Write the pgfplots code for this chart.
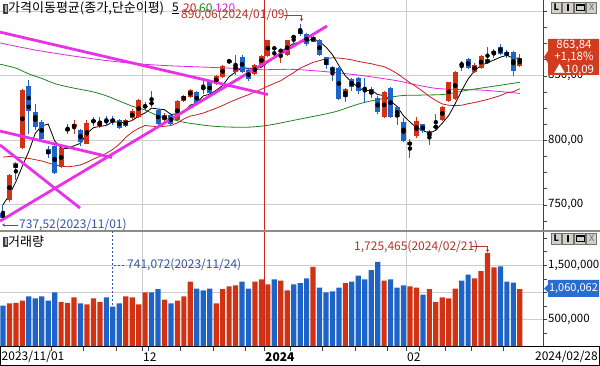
\documentclass[border=0pt]{standalone}
\usepackage{pgfplots}
\pgfplotsset{compat=1.18}
\usepackage{pgfplotstable}
\usetikzlibrary{arrows.meta}
\usepackage{fontspec}
\setmainfont{Noto Sans CJK KR}
\definecolor{cred}{RGB}{210,50,20}
\definecolor{cblue}{RGB}{30,100,200}
\definecolor{ma20}{RGB}{200,30,30}
\definecolor{ma60}{RGB}{30,130,30}
\definecolor{ma120}{RGB}{220,40,220}
\definecolor{trend}{RGB}{232,50,232}
\definecolor{gridc}{RGB}{205,205,205}
\definecolor{annr}{RGB}{180,50,40}
\definecolor{annb}{RGB}{50,85,165}
\definecolor{btn}{RGB}{212,208,200}
\definecolor{yrline}{RGB}{205,40,30}
\definecolor{pbox}{RGB}{210,60,30}
\definecolor{vbox}{RGB}{40,110,210}

% up (red) candles: index open high low close volume
\pgfplotstableread{
i o h l c v
1 753.8 774 752.5 773.1 800000
2 778.3 783 769 782.1 810000
3 794.4 840 793 839.2 850000
9 779 795 778.5 794.4 830000
10 807.8 813 805 809 810000
11 810 815.4 805.1 812.5 910000
13 797.4 815.4 797 813.3 780000
14 814.1 818 811.5 815.9 890000
15 810.2 818 809.5 814.6 830000
19 811.3 816.5 810 815.9 930000
20 817.2 824 815 822.5 910000
21 818 832 817 831.3 780000
22 826 830 822.5 827 1000000
25 815.4 821 814 820 870000
27 815.4 831 815 830.3 850000
28 830.8 835.5 830 834.6 930000
29 833.8 840 833 839.2 1200000
33 843.6 850.8 843 850 800000
34 849.2 858.5 848.5 857.7 1060000
35 860.2 863 859.5 862.3 1110000
36 853.3 866 851 858.5 1130000
39 851.3 859 850.5 858.5 1200000
40 858.5 866 858 865.4 1240000
41 865.4 878 865 877.4 1150000
43 869 871 860 870 1220000
44 866.2 878 865.5 877.4 1040000
48 876.4 880.8 876 880.2 1470000
53 833.8 840.5 829.5 839.8 1170000
59 817.9 838 817 837.2 1220000
63 796.2 801.3 786 798.7 1110000
64 803.1 818 802 814.9 1090000
66 803.1 808.4 796.2 807.2 1060000
67 810 820.5 807.7 811 830000
68 815.4 826.8 815 826.2 910000
69 830.3 845.5 830 844.9 890000
70 832.1 853.5 831.5 852.6 1070000
73 853.3 860 852 858.2 1260000
74 856.4 866 855 865.4 1390000
75 859.7 872.3 859 862.8 1725465
76 866.7 870.8 864 869.2 1460000
80 857.5 867.2 857 863.84 1060062
}\up

% down (blue) candles
\pgfplotstableread{
i o h l c v
0 743.6 750 737.52 739.8 760000
4 842.3 847 805 823.1 930000
5 821.8 828 808 810.2 890000
6 814.1 815.4 800 801.3 930000
7 793.1 795.4 786 789.2 850000
8 795.4 797 774 774.4 1000000
12 807.7 809 796 798.7 800000
16 816 818.5 811 815 910000
17 816.7 818.5 812 814.1 741072
18 815.9 816.5 809 809.7 800000
23 829.2 838 825.6 828.3 1000000
24 823.6 824.5 812 812.3 1060000
26 820 821 811 812.3 800000
30 837.2 838 827.5 828.2 1070000
31 841 847.4 836 840 1040000
32 844.9 846 835 836.4 1070000
37 864.6 866 852 853.3 1200000
38 854.4 856 846 847.4 1070000
42 871.8 872 863 871 1240000
45 880.8 881.5 874.6 879.5 1150000
46 885.4 890.06 880.8 882.5 1170000
47 882.8 883.5 873 874.4 1260000
49 877.7 878.5 865 866 1090000
50 864.6 865 855 858.5 1000000
51 857 858 846 853 1020000
52 855.9 857 831.5 832.1 1090000
54 847.4 848.7 838.5 841.5 1200000
55 848.7 849 836 838.5 1310000
56 840.5 848.7 828.7 839.5 1240000
57 839.8 841 833 835.9 1410000
58 833 834 820.5 822.3 1560000
60 840.5 841 817.5 817.9 1240000
61 825.6 826.5 812 817.9 1090000
62 814 817.4 799 799.5 1130000
65 812.3 813 806 807.2 960000
71 859.5 861.5 853.8 858.5 1220000
72 862.8 864 855 855.9 1330000
77 872.3 874.9 866 866.7 1480000
78 868.7 870 864 865.4 1200000
79 868.7 869.5 850 853.75 1180000
}\dn

\begin{document}
\begin{tikzpicture}[x=1pt,y=1pt]
\useasboundingbox (0,0) rectangle (600,366);

% ---------------- price panel ----------------
\begin{axis}[at={(0pt,136pt)}, anchor=south west, scale only axis,
  width=543pt, height=230pt,
  xmin=-0.464, xmax=83.59, ymin=730.5, ymax=908.8,
  axis line style={draw=none},
  xtick=\empty, ytick pos=right, yticklabel pos=right,
  ytick={750,800,850}, yticklabels={{750,00},{800,00},{850,00}},
  minor ytick={737.5,762.5,775,787.5,812.5,825,837.5,862.5,875,887.5,900},
  tick align=outside, major tick length=4pt, minor tick length=4pt,
  every tick/.style={draw=black!75, line width=0.6pt},
  yticklabel style={font=\fontsize{11.5}{12}\selectfont, inner sep=1pt, text=black, anchor=west},
  clip=true]
  % grid
  \draw[gridc, line width=0.7pt] (-5,750) -- (90,750);
  \draw[gridc, line width=0.7pt] (-5,800) -- (90,800);
  \draw[gridc, line width=0.7pt] (-5,850) -- (90,850);
  \draw[gridc, line width=0.7pt] (-5,900) -- (90,900);
  \draw[gridc, line width=0.7pt] (21.5,700) -- (21.5,950);
  \draw[gridc, line width=0.7pt] (62.5,700) -- (62.5,950);
  \draw[yrline, line width=0.9pt] (40.5,700) -- (40.5,950);
  % moving averages
  \addplot[ma120, line width=0.8pt, smooth] coordinates {(-0.46,875.5)(0,875)(5,870)(10,866)(15,862.5)(20,859.7)(25,858)(30,857)(35,856)(40,854.8)(45,855)(50,853.2)(55,850.6)(58,848.5)(61,846.2)(64,843)(67,840.3)(70,839.5)(74,839)(77,837.8)(80,836.4)};
  \addplot[ma60, line width=0.8pt, smooth] coordinates {(-0.46,859)(0,858.5)(2,856)(4,851.5)(6,848)(8,844)(10,841.5)(12,839.5)(14,837.5)(16,834.5)(18,830.5)(20,826.5)(22,823.5)(24,819)(26,816.5)(28,814)(30,812.5)(32,811.2)(34,810.5)(36,810.2)(38,810.2)(40,811)(42,812.5)(44,814.5)(46,816.5)(48,818.5)(50,820.5)(52,823)(54,826.5)(56,829.5)(58,831.5)(60,833.5)(62,834.8)(64,835)(66,835.2)(68,835.5)(70,837)(72,839)(74,840.5)(76,842)(78,843.5)(80,845)};
  \addplot[ma20, line width=0.8pt] coordinates {(0,787)(1,787.5)(2,787)(3,786.5)(4,786)(5,785)(6,784)(7,782.5)(8,781)(9,780)(10,779.5)(11,780)(12,781)(13,783)(14,785.5)(15,787.5)(16,790)(17,793)(18,797)(19,802.3)(20,806.4)(21,809.3)(22,811.5)(23,811)(24,810.5)(25,810.9)(26,811.5)(27,813.6)(28,816.6)(29,818.8)(30,819.8)(31,821.2)(32,823)(33,824.9)(34,827)(35,829.4)(36,831.5)(37,833.5)(38,835.4)(39,837.5)(40,839.7)(41,842)(42,844.2)(43,846.2)(44,849.5)(45,852.5)(46,856)(47,858.2)(48,860.5)(49,861.8)(50,863.3)(51,864)(52,863.8)(53,863.2)(54,862.4)(55,861.2)(56,860.3)(57,859.4)(58,858.2)(59,857.1)(60,854.7)(61,851.8)(62,848.2)(63,844.6)(64,841.5)(65,837.9)(66,834.1)(67,830.9)(68,828.2)(69,827.2)(70,826.9)(71,827.2)(72,828.4)(73,829.3)(74,830.5)(75,831.7)(76,833.2)(77,834.7)(78,836.9)(79,837.7)(80,840)};
  \addplot[black, line width=0.8pt] coordinates {(0,750)(1,757.7)(2,768)(3,780)(4,791.5)(5,805.5)(6,811.2)(7,812.6)(8,799.6)(9,793.9)(10,793.7)(11,795.8)(12,797.7)(13,805.5)(14,809.8)(15,810.9)(16,811.5)(17,814.6)(18,813.9)(19,813.9)(20,815.4)(21,818.7)(22,821.3)(23,825)(24,824.3)(25,823.8)(26,820)(27,820.6)(28,821.9)(29,827.3)(30,828.9)(31,834.5)(32,835.7)(33,838.8)(34,842.5)(35,849.3)(36,853)(37,856.4)(38,855.8)(39,856)(40,856.6)(41,860.4)(42,863.9)(43,868.5)(44,872.2)(45,875.1)(46,876.1)(47,876.8)(48,878.8)(49,876.5)(50,872.3)(51,866.4)(52,858)(53,849.9)(54,845)(55,841)(56,838.3)(57,839)(58,835.5)(59,834.7)(60,830.6)(61,826.2)(62,819)(63,814.2)(64,809.8)(65,807.6)(66,805.5)(67,807.8)(68,813.3)(69,819.3)(70,828.4)(71,838.6)(72,847.6)(73,854)(74,858.1)(75,860.2)(76,862.3)(77,864.5)(78,865.9)(79,863.6)(80,863.8)};
  % candles: wicks
  \addplot[only marks, mark=none, error bars/.cd, y dir=both, y explicit, error mark=none,
    error bar style={draw=cred, line width=1pt}]
    table[x=i, y expr={(\thisrow{h}+\thisrow{l})/2}, y error expr={(\thisrow{h}-\thisrow{l})/2}] {\up};
  \addplot[only marks, mark=none, error bars/.cd, y dir=both, y explicit, error mark=none,
    error bar style={draw=cblue, line width=1pt}]
    table[x=i, y expr={(\thisrow{h}+\thisrow{l})/2}, y error expr={(\thisrow{h}-\thisrow{l})/2}] {\dn};
  % candles: bodies
  \addplot[only marks, mark=none, error bars/.cd, y dir=both, y explicit, error mark=none,
    error bar style={draw=cred, line width=5pt}]
    table[x=i, y expr={(\thisrow{o}+\thisrow{c})/2}, y error expr={abs(\thisrow{c}-\thisrow{o})/2}] {\up};
  \addplot[only marks, mark=none, error bars/.cd, y dir=both, y explicit, error mark=none,
    error bar style={draw=cblue, line width=5pt}]
    table[x=i, y expr={(\thisrow{o}+\thisrow{c})/2}, y error expr={abs(\thisrow{c}-\thisrow{o})/2}] {\dn};
  % trend lines
  \addplot[trend, line width=2.8pt] coordinates {(-0.46,883.9)(41.0,835.5)};
  \addplot[trend, line width=2.8pt] coordinates {(-0.46,807.2)(16.87,786.7)};
  \addplot[trend, line width=2.8pt] coordinates {(-0.46,796.4)(11.92,747.5)};
  \addplot[trend, line width=2.8pt] coordinates {(-0.46,737.4)(50.15,888.6)};
\end{axis}

% ---------------- volume panel ----------------
\begin{axis}[at={(0pt,19pt)}, anchor=south west, scale only axis,
  width=543pt, height=115pt,
  xmin=-0.464, xmax=83.59, ymin=0, ymax=2110000,
  axis line style={draw=none},
  xtick pos=bottom, ytick pos=right, yticklabel pos=right,
  xtick={2.5,7.5,12.5,17.5,21.5,22.5,27.5,32.5,37.5,40.5,44.5,49.5,54.5,59.5,62.5,64.5,68.5,72.5,77.5},
  xticklabels={},
  scaled y ticks=false,
  ytick={500000,1000000,1500000}, yticklabels={{500,000},{1,000,000},{1,500,000}},
  minor ytick={250000,750000,1250000,1750000,2000000},
  tick align=outside, major tick length=4pt, minor tick length=4pt,
  every tick/.style={draw=black!75, line width=0.6pt},
  yticklabel style={font=\fontsize{11.5}{12}\selectfont, inner sep=1pt, text=black, anchor=west},
  clip=true]
  \draw[gridc, line width=0.7pt] (-5,500000) -- (90,500000);
  \draw[gridc, line width=0.7pt] (-5,1000000) -- (90,1000000);
  \draw[gridc, line width=0.7pt] (-5,1500000) -- (90,1500000);
  \draw[gridc, line width=0.7pt] (21.5,-10) -- (21.5,3000000);
  \draw[gridc, line width=0.7pt] (62.5,-10) -- (62.5,3000000);
  \addplot[ybar, bar width=5.2pt, bar shift=0pt, fill=cred, draw=none] table[x=i, y=v] {\up};
  \addplot[ybar, bar width=5.2pt, bar shift=0pt, fill=cblue, draw=none] table[x=i, y=v] {\dn};
  \draw[yrline, line width=0.9pt] (40.5,-10) -- (40.5,3000000);
\end{axis}

% ---------------- frames ----------------
\draw[black!75, line width=0.8pt] (543,19) -- (543,366);
\draw[black!45, line width=1.2pt] (0,135) -- (600,135);
\draw[black, line width=1pt] (0.5,0.5) rectangle (599.5,19);

% ---------------- titles ----------------
\fill[black!75] (2.5,352) rectangle (7.5,362);
\fill[black!30] (5,353.5) rectangle (7,360.5);
\node[anchor=west, inner sep=0, font=\fontsize{13}{14}\selectfont] at (8,357.5) {가격이동평균(종가,단순이평)};
\node[anchor=west, inner sep=0, font=\fontsize{12}{14}\selectfont] at (172,358) {\underline{5}};
\node[anchor=west, inner sep=0, font=\fontsize{12}{14}\selectfont, text=ma20] at (183,358) {20};
\node[anchor=west, inner sep=0, font=\fontsize{12}{14}\selectfont, text=ma60] at (199,358) {60};
\node[anchor=west, inner sep=0, font=\fontsize{12}{14}\selectfont, text=ma120] at (215,358) {120};

\fill[black!75] (2.5,119) rectangle (7.5,129);
\fill[black!30] (5,120.5) rectangle (7,127.5);
\node[anchor=west, inner sep=0, font=\fontsize{13}{14}\selectfont] at (8,124) {거래량};

% ---------------- annotations ----------------
\node[anchor=west, inner sep=0, font=\fontsize{12}{14}\selectfont, text=annr] at (181,351) {890,06(2024/01/09)};
\draw[annr, line width=0.7pt, -{Stealth[length=3pt,width=3pt]}] (284,350.5) -- (301.5,350.5) -- (301.5,344.5);
\node[anchor=west, inner sep=0, font=\fontsize{12}{14}\selectfont, text=annb] at (19,141) {737,52(2023/11/01)};
\draw[annb, line width=0.7pt, -{Stealth[length=3pt,width=3pt]}] (18,141) -- (2,141);
\draw[annb, line width=0.7pt, dash pattern=on 2pt off 2pt] (112.7,135) -- (112.7,61);
\draw[annb, line width=0.7pt, dash pattern=on 2pt off 2pt] (114,101) -- (126,101);
\node[anchor=west, inner sep=0, font=\fontsize{12}{14}\selectfont, text=annb] at (127,101) {741,072(2023/11/24)};
\node[anchor=west, inner sep=0, font=\fontsize{12}{14}\selectfont, text=annr] at (354,119) {1,725,465(2024/02/21)};
\draw[annr, line width=0.7pt, -{Stealth[length=3pt,width=3pt]}] (471,119.5) -- (487.5,119.5) -- (487.5,113.5);

% ---------------- value boxes ----------------
\fill[pbox] (544,309) -- (548,315) -- (548,327) -- (599,327) -- (599,291) -- (548,291) -- (548,303) -- cycle;
\node[font=\fontsize{11.5}{12}\selectfont, text=white, inner sep=0] at (574,320.5) {863,84};
\node[font=\fontsize{11.5}{12}\selectfont, text=white, inner sep=0] at (574,308.5) {+1,18\%};
\node[font=\fontsize{11.5}{12}\selectfont, text=white, inner sep=0] at (574,296.5) {▲10,09};
\fill[vbox] (544,77.5) -- (548,81.5) -- (548,86) -- (599,86) -- (599,69) -- (548,69) -- (548,73.5) -- cycle;
\node[font=\fontsize{11}{12}\selectfont, text=white, inner sep=0] at (573.5,77.5) {1,060,062};

% ---------------- buttons ----------------
\foreach \yy in {353,122}{
  \foreach \k in {0,1,2,3}{
    \draw[black!55, fill=btn, line width=0.6pt] ({551+11.7*\k},\yy) rectangle ++(10.5,11);
  }
  \node[font=\fontsize{9}{9}\selectfont\bfseries, inner sep=0] at (556.2,\yy+5.5) {L};
  \fill[black] (566.8,\yy+2) rectangle (569.2,\yy+9);
  \draw[black, line width=0.7pt] (576,\yy+2.5) rectangle (584,\yy+8.5);
  \draw[black, line width=1.6pt] (576,\yy+8) -- (584,\yy+8);
  \node[font=\fontsize{9}{9}\selectfont, inner sep=0, text=black!60] at (591.8,\yy+5.5) {X};
}

% ---------------- date labels ----------------
\node[anchor=west, inner sep=0, font=\fontsize{12}{14}\selectfont] at (1.5,9) {2023/11/01};
\node[anchor=west, inner sep=0, font=\fontsize{12}{14}\selectfont] at (143,9) {12};
\node[anchor=west, inner sep=0, font=\fontsize{12}{14}\selectfont\bfseries] at (265,9) {2024};
\node[anchor=west, inner sep=0, font=\fontsize{12}{14}\selectfont] at (407,9) {02};
\node[anchor=east, inner sep=0, font=\fontsize{12}{14}\selectfont] at (598,9) {2024/02/28};
\end{tikzpicture}
\end{document}
